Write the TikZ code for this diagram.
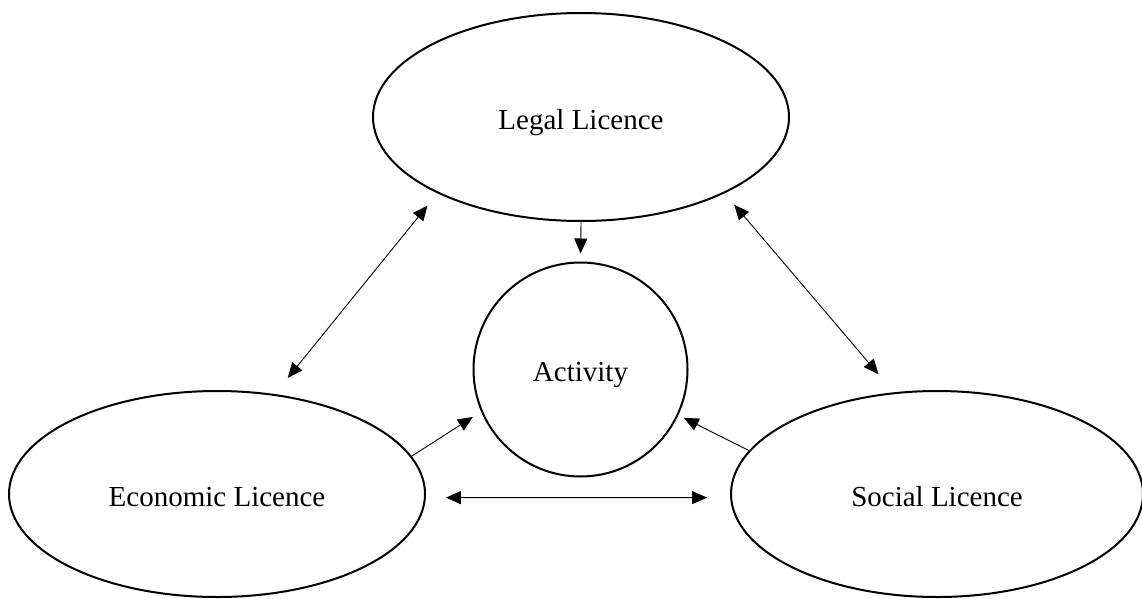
\documentclass[tikz,border=0pt]{standalone}
\usepackage{fontspec}
\setmainfont{Liberation Serif}
\usetikzlibrary{shapes.geometric,arrows.meta}
\begin{document}
\begin{tikzpicture}[x=1pt,y=-1pt,
  label text/.style={font=\fontsize{29}{34}\selectfont,text height=24pt,text depth=0pt},
  licence/.style={ellipse,draw,line width=2pt,minimum width=416pt,minimum height=208pt,inner sep=0pt,label text},
  hub/.style={circle,draw,line width=2pt,minimum size=214pt,inner sep=0pt,label text},
  link/.style={line width=0.9pt,-{Triangle[length=15pt,width=13pt]}},
  mutual/.style={line width=0.9pt,{Triangle[length=15pt,width=13pt]}-{Triangle[length=15pt,width=13pt]}}
]
\useasboundingbox (0,0) rectangle (1142,599);

% the three licences and the activity they govern
\node[licence] (legal) at (581,117) {Legal Licence};
\node[licence,minimum height=206pt] (econ) at (217,494) {Economic Licence};
\node[licence,minimum width=412pt,minimum height=206pt] (social) at (937,494) {Social Licence};
\node[hub] (act) at (580.5,369.5) {Activity};

% mutual relations between licences
\draw[mutual,shorten <=15.7pt,shorten >=20.8pt] (legal.208.8) -- (econ.60.5);
\draw[mutual,shorten <=15pt,shorten >=23.7pt] (legal.332.9) -- (social.113.1);
\draw[mutual,shorten <=20pt,shorten >=23pt] (econ.-1.4) -- (social.181.4);

% each licence bears on the activity
\draw[link,shorten >=8pt] (legal.south) -- (act.north);
\draw[link,shorten >=9.7pt] (econ.11.65) -- (act.203.5);
\draw[link,shorten >=5.9pt] (social.167.7) -- (act.335.3);
\end{tikzpicture}
\end{document}
